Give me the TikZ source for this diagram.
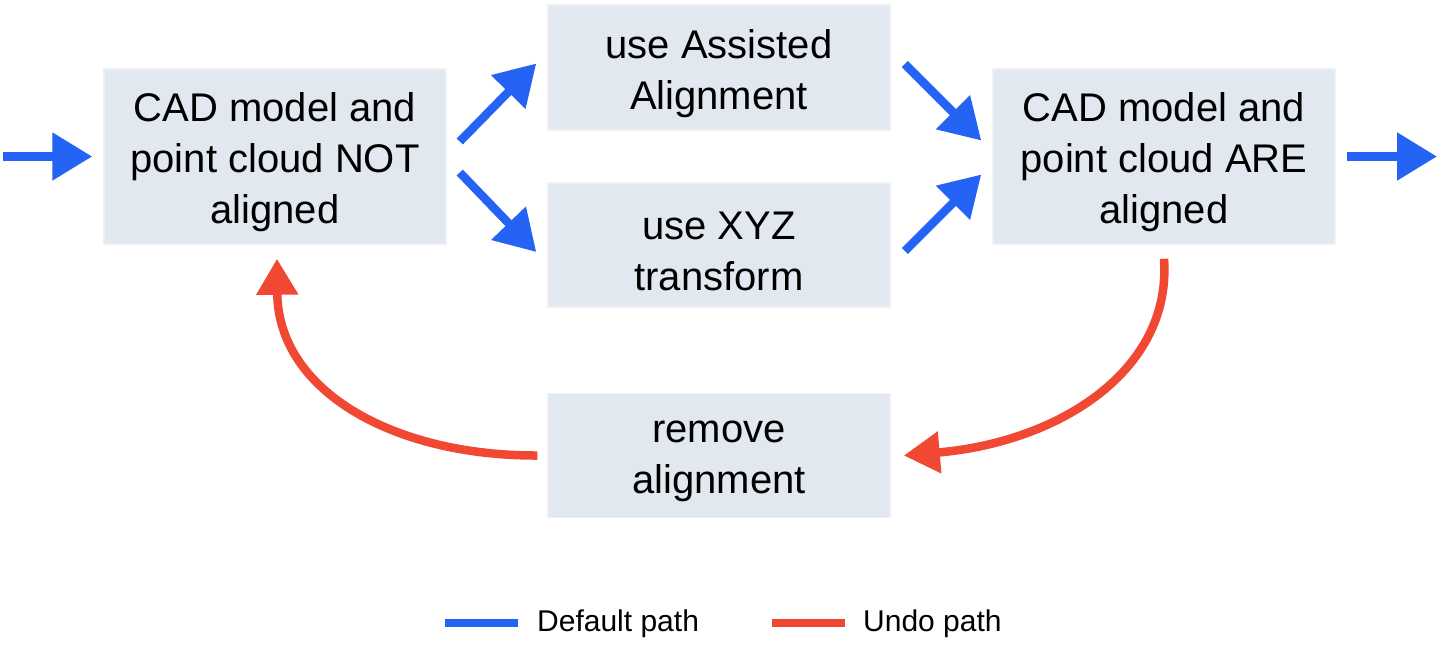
\documentclass[tikz,border=0pt]{standalone}
\usepackage{fontspec}
\setmainfont{Liberation Sans}
\usetikzlibrary{arrows.meta}
\definecolor{boxfill}{RGB}{225,232,240}
\definecolor{boxline}{RGB}{237,241,246}
\definecolor{defblue}{RGB}{37,99,245}
\definecolor{undored}{RGB}{240,72,50}
\tikzset{
  stepbox/.style={rectangle, fill=boxfill, draw=boxline, line width=1.5pt,
    minimum width=342pt, inner sep=0pt},
  boxtext/.style={align=center, inner sep=0pt, yshift=-6pt,
    font=\fontsize{40}{51}\selectfont},
  defarrow/.style={draw=defblue, line width=8.5pt,
    -{Triangle[length=40pt,width=46pt]}, defblue},
  undoarrow/.style={draw=undored, line width=8.5pt,
    -{Triangle[length=36pt,width=40pt]}, undored},
  legline/.style={line width=8pt},
  legtext/.style={anchor=west, inner sep=0pt, font=\fontsize{30}{36}\selectfont}
}
\begin{document}
\begin{tikzpicture}[x=1pt,y=-1pt]
\useasboundingbox (0,0) rectangle (1440,656);
\node[stepbox, minimum height=175pt, label={[boxtext]center:{CAD model and\\point cloud NOT\\aligned}}] (A) at (275,156.5) {};
\node[stepbox, minimum height=125pt, label={[boxtext]center:{use Assisted\\Alignment}}] (B) at (719,67.5) {};
\node[stepbox, minimum height=124pt, label={[boxtext]center:{use XYZ\\transform}}] (C) at (719,245) {};
\node[stepbox, minimum height=175pt, label={[boxtext]center:{CAD model and\\point cloud ARE\\aligned}}] (D) at (1164,156.5) {};
\node[stepbox, minimum height=124pt, label={[boxtext]center:{remove\\alignment}}] (E) at (719,455.5) {};

\coordinate (in) at (3,156.5);
\coordinate (out) at (1437,156.5);
\draw[defarrow] (in) -- ([xshift=-11pt]A.west);
\draw[defarrow] ([xshift=11pt]D.east) -- (out);
\draw[defarrow] ([xshift=13pt,yshift=15pt]A.east) -- ([xshift=-11pt,yshift=4pt]B.west);
\draw[defarrow] ([xshift=13pt,yshift=-16pt]A.east) -- ([xshift=-11pt,yshift=-7pt]C.west);
\draw[defarrow] ([xshift=14pt,yshift=3.5pt]B.east) -- ([xshift=-11pt,yshift=16pt]D.west);
\draw[defarrow] ([xshift=14pt,yshift=-6pt]C.east) -- ([xshift=-11pt,yshift=-18pt]D.west);

\coordinate (d0) at ([yshift=-14pt]D.south);
\coordinate (e1) at ([xshift=13pt]E.east);
\draw[undoarrow] (d0) .. controls (1172,370) and (1060,442) .. (e1);
\coordinate (e0) at ([xshift=-10pt]E.west);
\coordinate (a1) at ([xshift=2pt,yshift=-14pt]A.south);
\draw[undoarrow] (e0) .. controls (395,456) and (278,392) .. (a1);

\coordinate (l1a) at (445,623);
\coordinate (l1b) at (518,623);
\coordinate (l2a) at (772,623);
\coordinate (l2b) at (845,623);
\draw[legline, defblue] (l1a) -- (l1b);
\draw[legline, undored] (l2a) -- (l2b);
\node[legtext] (t1) at (537,624) {Default path};
\node[legtext] (t2) at (863,624) {Undo path};
\end{tikzpicture}
\end{document}
